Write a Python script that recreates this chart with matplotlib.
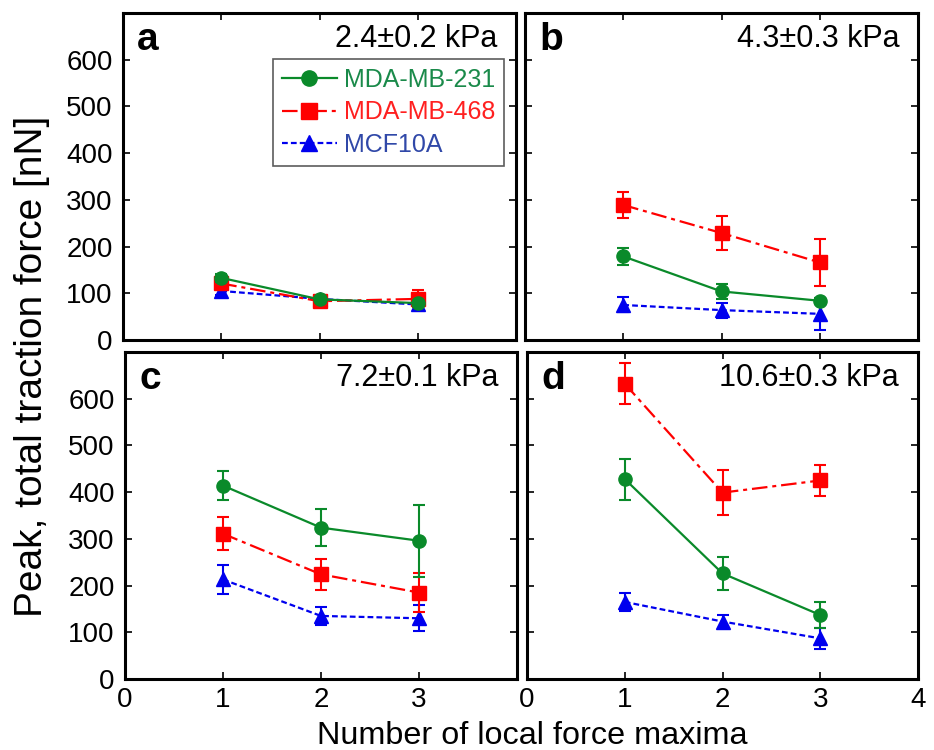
import matplotlib
matplotlib.use("Agg")
import matplotlib.pyplot as plt
from matplotlib.lines import Line2D

plt.rcParams['font.family'] = ['Liberation Sans', 'DejaVu Sans']

x = [1, 2, 3]
series_names = ["MDA-MB-231", "MDA-MB-468", "MCF10A"]
panel_letters = ["a", "b", "c", "d"]
stiffness_labels = ["2.4\u00b10.2 kPa", "4.3\u00b10.3 kPa", "7.2\u00b10.1 kPa", "10.6\u00b10.3 kPa"]

# values per panel: [MDA-MB-231, MDA-MB-468, MCF10A]
a_vals = [[133, 87, 79], [121, 83, 88], [105, 88, 76]]
a_errs = [[8, 5, 5], [10, 8, 18], [8, 6, 6]]
b_vals = [[179, 104, 84], [289, 229, 166], [75, 64, 56]]
b_errs = [[19, 16, 5], [28, 37, 50], [16, 16, 34]]
c_vals = [[414, 324, 296], [311, 224, 185], [213, 135, 130]]
c_errs = [[31, 39, 77], [35, 33, 42], [32, 20, 28]]
d_vals = [[428, 226, 137], [632, 399, 425], [165, 123, 87]]
d_errs = [[44, 36, 28], [44, 48, 34], [20, 14, 23]]

colors = ["#0a8a2a", "#ff0000", "#0000ee"]
text_colors = ["#1a8a4a", "#ff2020", "#3048a8"]
markers = ["o", "s", "^"]
dashes = [None, (7, 2.2, 1.8, 2.2), (2.6, 1.4)]

W, H = 934, 750
fig = plt.figure(figsize=(W / 100, H / 100), dpi=100)

def rect(l, t, r, b):
    return [l / W, 1 - b / H, (r - l) / W, (b - t) / H]

rects = [rect(123, 13, 516, 340), rect(525, 13, 918, 340),
         rect(125, 352, 517, 679), rect(527, 352, 918, 679)]
all_vals = [a_vals, b_vals, c_vals, d_vals]
all_errs = [a_errs, b_errs, c_errs, d_errs]

for i, (r, vals, errs) in enumerate(zip(rects, all_vals, all_errs)):
    ax = fig.add_axes(r)
    for s in range(3):
        kw = dict(color=colors[s], marker=markers[s], markersize=9.5 if s != 1 else 10,
                  lw=1.6, elinewidth=1.5, capsize=4, capthick=1.5,
                  label=series_names[s], zorder=3 + (2 - s))
        eb = ax.errorbar(x, vals[s], yerr=errs[s], **kw)
        if dashes[s] is not None:
            eb.lines[0].set_dashes(dashes[s])
    ax.set_xlim(0, 4)
    ax.set_ylim(0, 700)
    ax.set_yticks([0, 100, 200, 300, 400, 500, 600])
    if i == 2:
        ax.set_xticks([0, 1, 2, 3])
    else:
        ax.set_xticks([0, 1, 2, 3, 4])
    ax.tick_params(direction="in", top=True, right=True, length=5, width=1.2,
                   labelsize=20, labelleft=(i in (0, 2)), labelbottom=(i in (2, 3)))
    ax.tick_params(axis="y", pad=7.5)
    ax.tick_params(axis="x", pad=6)
    for sp in ax.spines.values():
        sp.set_linewidth(2.2)
    ax.text(0.036, 0.887, panel_letters[i], transform=ax.transAxes, fontsize=28,
            fontweight="bold", va="baseline", ha="left")
    ax.text(0.952, 0.896, stiffness_labels[i], transform=ax.transAxes, fontsize=22,
            va="baseline", ha="right")
    if i == 0:
        handles = []
        for s in range(3):
            ln = Line2D([], [], color=colors[s], marker=markers[s], markersize=11, lw=1.6)
            if dashes[s] is not None:
                ln.set_dashes(dashes[s])
            handles.append(ln)
        leg = ax.legend(handles, series_names, loc="upper right",
                        bbox_to_anchor=(0.97, 0.86), fontsize=18, frameon=True,
                        fancybox=False, edgecolor="#333333", handlelength=2.2,
                        handletextpad=0.3, borderpad=0.35, labelspacing=0.35,
                        borderaxespad=0)
        leg.get_frame().set_linewidth(1.2)
        for t, c in zip(leg.get_texts(), text_colors):
            t.set_color(c)

fig.text(532 / W, 1 - 744 / H, "Number of local force maxima", fontsize=23.3,
         ha="center", va="baseline")
fig.text(32 / W, 1 - 366 / H, "Peak, total traction force [nN]", fontsize=28,
         ha="center", va="center", rotation=90)

fig.savefig("out.png", dpi=100)
